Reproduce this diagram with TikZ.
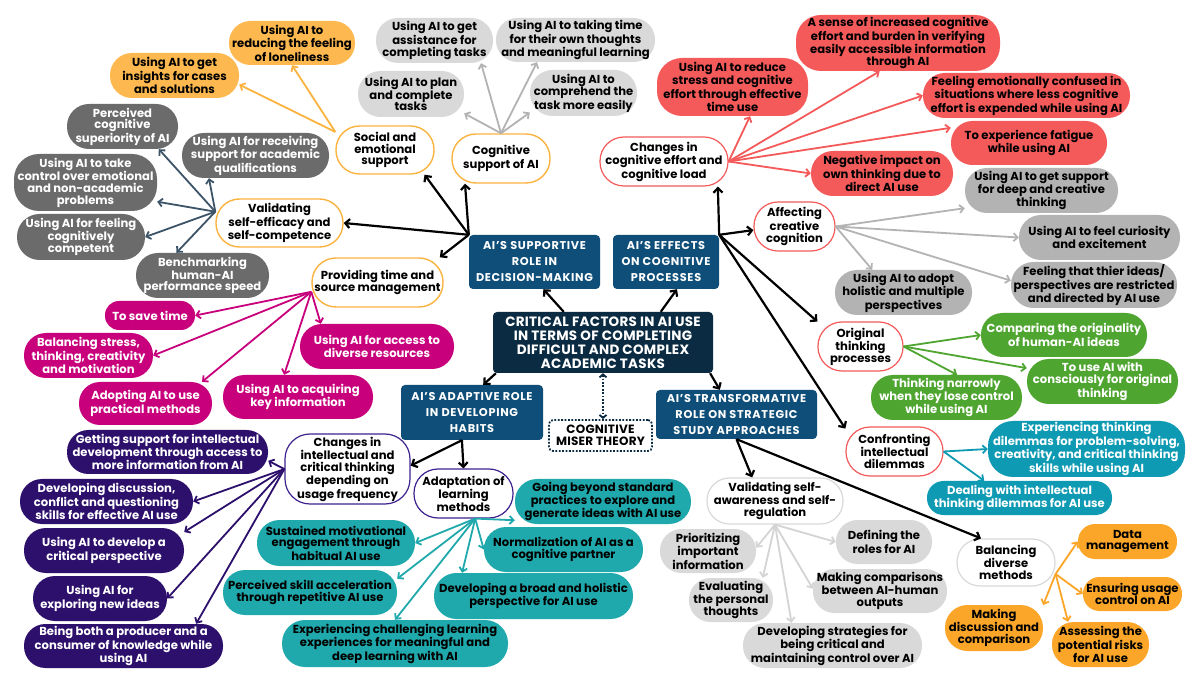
\documentclass[tikz,border=0pt]{standalone}
\usepackage{fontspec}
\setmainfont{Poppins}
\newfontfamily\capsf{Poppins}[LetterSpace=6]
\newfontfamily\mcapsf{Poppins}[LetterSpace=2]
\usetikzlibrary{arrows.meta}
\definecolor{navy}{HTML}{0B2B42}
\definecolor{steel}{HTML}{0E4E78}
\definecolor{orO}{HTML}{FBB340}
\definecolor{orF}{HTML}{FDB94F}
\definecolor{lgrey}{HTML}{D9D9D9}
\definecolor{dgrey}{HTML}{6B6B6B}
\definecolor{slate}{HTML}{3D5468}
\definecolor{mag}{HTML}{C8007C}
\definecolor{redF}{HTML}{F45A5A}
\definecolor{mgrey}{HTML}{B3B3B3}
\definecolor{grn}{HTML}{4EA52F}
\definecolor{tealA}{HTML}{0E9AB3}
\definecolor{purD}{HTML}{2D0F6C}
\definecolor{purO}{HTML}{3E2390}
\definecolor{tealB}{HTML}{20A9AC}
\definecolor{orB}{HTML}{FBA629}
\definecolor{lline}{HTML}{D4D4D4}
\newcommand{\bx}[7]{%
  \pgfmathsetmacro\bxw{#4-#2}%
  \pgfmathsetmacro\bxh{#5-#3}%
  \pgfmathsetmacro\bxr{min(25,\bxh/2-0.5)}%
  \node[bn, minimum width=\bxw pt, minimum height=\bxh pt, rounded corners=\bxr pt, #6] (#1) at ({(#2+#4)/2},{(#3+#5)/2}) {#7};}
\tikzset{
  bn/.style={align=center, inner sep=1pt, font=\bfseries\fontsize{11.6}{11.7}\selectfont},
  capbox/.style={fill=steel, text=white, rounded corners=4pt, font=\capsf\bfseries\fontsize{11.3}{16}\selectfont},
  ctrbox/.style={fill=navy, text=white, rounded corners=4pt, font=\mcapsf\bfseries\fontsize{13.5}{14}\selectfont},
  mbox/.style={draw=navy, line width=1.8pt, dash pattern=on 1.8pt off 1.6pt, fill=white, rounded corners=4pt, font=\mcapsf\bfseries\fontsize{12}{12.5}\selectfont},
  wo/.style={draw=orO, line width=1.4pt, fill=white},
  wr/.style={draw=redF, line width=1.2pt, fill=white},
  wp/.style={draw=purO, line width=1.2pt, fill=white},
  wg/.style={draw=lgrey, line width=1.2pt, fill=white},
  fo/.style={fill=orF},
  fl/.style={fill=lgrey},
  fd/.style={fill=dgrey, text=white},
  fm/.style={fill=mag, text=white},
  fr/.style={fill=redF},
  fg/.style={fill=mgrey},
  fgr/.style={fill=grn, text=white},
  fta/.style={fill=tealA, text=white},
  fp/.style={fill=purD, text=white},
  ftb/.style={fill=tealB},
  fob/.style={fill=orB},
  ak/.style={draw=black, line width=2.2pt, -{Straight Barb[length=4.5pt,width=9pt]}},
  ac/.style={draw=#1, line width=1.8pt, -{Straight Barb[length=4pt,width=8pt]}},
}
\begin{document}
\begin{tikzpicture}[x=1pt,y=-1pt]
\useasboundingbox[fill=white] (0,0) rectangle (1200,684);
% main
\bx{c}{493}{312}{713}{373}{ctrbox}{CRITICAL FACTORS IN AI USE\\IN TERMS OF COMPLETING\\DIFFICULT AND COMPLEX\\ACADEMIC TASKS}
\bx{sup}{469}{235}{600}{289}{capbox}{AI’S SUPPORTIVE\\ROLE IN\\DECISION-MAKING}
\bx{eff}{613}{235}{719}{289}{capbox}{AI’S EFFECTS\\ON COGNITIVE\\PROCESSES}
\bx{ada}{401}{385}{543}{440}{capbox}{AI’S ADAPTIVE ROLE\\IN DEVELOPING\\HABITS}
\bx{tra}{656}{390}{817}{439}{capbox}{AI’S TRANSFORMATIVE\\ROLE ON STRATEGIC\\STUDY APPROACHES}
\bx{cm}{549}{420}{652}{451}{mbox}{COGNITIVE\\MISER THEORY}
% supportive
\bx{soc}{336}{126}{434}{174}{wo}{Social and\\emotional\\support}
\bx{cog}{452}{134}{550}{183}{wo}{Cognitive\\support of AI}
\bx{valse}{216}{199}{343}{247}{wo}{Validating\\self-efficacy and\\self-competence}
\bx{prov}{312}{258}{443}{307}{wo}{Providing time and\\source management}
\bx{lone}{229}{21}{355}{65}{fo}{Using AI to\\reducing the feeling\\of loneliness}
\bx{ins}{110}{53}{239}{98}{fo}{Using AI to get\\insights for cases\\and solutions}
\bx{ast}{376}{18}{493}{63}{fl}{Using AI to get\\assistance for\\completing tasks}
\bx{tak}{496}{18}{655}{62}{fl}{Using AI to taking time\\for their own thoughts\\and meaningful learning}
\bx{plan}{358}{71}{464}{117}{fl}{Using AI to plan\\and complete\\tasks}
\bx{comp}{530}{70}{637}{116}{fl}{Using AI to\\comprehend the\\task more easily}
\bx{perc}{67}{104}{178}{149}{fd}{Perceived\\cognitive\\superiority of AI}
\bx{recv}{182}{133}{329}{178}{fd}{Using AI for receiving\\support for academic\\qualifications}
\bx{take}{14}{154}{157}{211}{fd}{Using AI to take\\control over emotional\\and non-academic\\problems}
\bx{feel}{17}{214}{145}{260}{fd}{Using AI for feeling\\cognitively\\competent}
\bx{bench}{136}{253}{269}{298}{fd}{Benchmarking\\human-AI\\performance speed}
\bx{save}{105}{301}{195}{330}{fm}{To save time}
\bx{bal}{24}{333}{153}{378}{fm}{Balancing stress,\\thinking, creativity\\and motivation}
\bx{adopt}{79}{382}{212}{425}{fm}{Adopting AI to use\\practical methods}
\bx{acq}{223}{375}{373}{419}{fm}{Using AI to acquiring\\key information}
\bx{acc}{300}{324}{454}{369}{fm}{Using AI for access to\\diverse resources}
% effects
\bx{chg}{600}{137}{728}{186}{wr}{Changes in\\cognitive effort and\\cognitive load}
\bx{aff}{754}{202}{835}{251}{wr}{Affecting\\creative\\cognition}
\bx{orig}{818}{322}{903}{371}{wr}{Original\\thinking\\processes}
\bx{conf}{846}{427}{943}{476}{wr}{Confronting\\intellectual\\dilemmas}
\bx{red1}{657}{58}{808}{116}{fr}{Using AI to reduce\\stress and cognitive\\effort through effective\\time use}
\bx{red2}{796}{15}{1000}{71}{fr}{A sense of increased cognitive\\effort and burden in verifying\\easily accessible information\\through AI}
\bx{red3}{923}{73}{1130}{118}{fr}{Feeling emotionally confused in\\situations where less cognitive\\effort is expended while using AI}
\bx{red4}{951}{121}{1107}{165}{fr}{To experience fatigue\\while using AI}
\bx{red5}{811}{151}{953}{196}{fr}{Negative impact on\\own thinking due to\\direct AI use}
\bx{g1}{965}{168}{1118}{213}{fg}{Using AI to get support\\for deep and creative\\thinking}
\bx{g2}{1019}{215}{1180}{260}{fg}{Using AI to feel curiosity\\and excitement}
\bx{g3}{1011}{262}{1177}{308}{fg}{Feeling that thier ideas/\\perspectives are restricted\\and directed by AI use}
\bx{g4}{835}{270}{972}{315}{fg}{Using AI to adopt\\holistic and multiple\\perspectives}
\bx{gr1}{981}{313}{1147}{357}{fgr}{Comparing the originality\\of human-AI ideas}
\bx{gr2}{1027}{359}{1178}{404}{fgr}{To use AI with\\consciously for original\\thinking}
\bx{gr3}{871}{375}{1022}{420}{fgr}{Thinking narrowly\\when they lose control\\while using AI}
\bx{t1}{988}{421}{1185}{477}{fta}{Experiencing thinking\\dilemmas for problem-solving,\\creativity, and critical thinking\\skills while using AI}
\bx{t2}{927}{481}{1112}{515}{fta}{Dealing with intellectual\\thinking dilemmas for AI use}
% transformative
\bx{vsa}{707}{478}{843}{524}{wg}{Validating self-\\awareness and self-\\regulation}
\bx{bdm}{957}{539}{1055}{586}{wg}{Balancing\\diverse\\methods}
\bx{pri}{660}{529}{756}{573}{fl}{Prioritizing\\important\\information}
\bx{eva}{689}{578}{773}{622}{fl}{Evaluating\\the personal\\thoughts}
\bx{dev}{743}{623}{922}{668}{fl}{Developing strategies for\\being critical and\\maintaining control over AI}
\bx{def}{836}{520}{932}{564}{fl}{Defining the\\roles for AI}
\bx{mak}{813}{569}{947}{613}{fl}{Making comparisons\\between AI-human\\outputs}
\bx{o1}{1078}{524}{1177}{559}{fob}{Data\\management}
\bx{o2}{1083}{577}{1182}{611}{fob}{Ensuring usage\\control on AI}
\bx{o3}{1052}{622}{1149}{667}{fob}{Assessing the\\potential risks\\for AI use}
\bx{o4}{945}{605}{1043}{651}{fob}{Making\\discussion and\\comparison}
% adaptive
\bx{cit}{285}{434}{410}{504}{wp}{Changes in\\intellectual and\\critical thinking\\depending on\\usage frequency}
\bx{adm}{414}{469}{513}{518}{wp}{Adaptation of\\learning\\methods}
\bx{p1}{67}{430}{268}{474}{fp}{Getting support for intellectual\\development through access to\\more information from AI}
\bx{p2}{20}{479}{193}{524}{fp}{Developing discussion,\\conflict and questioning\\skills for effective AI use}
\bx{p3}{24}{528}{184}{573}{fp}{Using AI to develop a\\critical perspective}
\bx{p4}{33}{576}{167}{621}{fp}{Using AI for\\exploring new ideas}
\bx{p5}{24}{624}{223}{668}{fp}{Being both a producer and a\\consumer of knowledge while\\using AI}
\bx{q1}{515}{479}{691}{524}{ftb}{Going beyond standard\\practices to explore and\\generate ideas with AI use}
\bx{q2}{257}{520}{415}{566}{ftb}{Sustained motivational\\engagement through\\habitual AI use}
\bx{q3}{484}{527}{643}{572}{ftb}{Normalization of AI as a\\cognitive partner}
\bx{q4}{223}{570}{397}{615}{ftb}{Perceived skill acceleration\\through repetitive AI use}
\bx{q5}{434}{573}{633}{619}{ftb}{Developing a broad and holistic\\perspective for AI use}
\bx{q6}{282}{620}{508}{667}{ftb}{Experiencing challenging learning\\experiences for meaningful and\\deep learning with AI}
% ---- connectors
\draw[ak] (c.142) -- (sup.288);
\draw[ak] (c.28) -- (eff.292);
\draw[ak] (c.196) -- (ada.68);
\draw[ak] (c.344) -- (tra.124);
\draw[draw=navy, line width=1.8pt, dash pattern=on 1.8pt off 1.6pt, {Straight Barb[length=3pt,width=7pt]}-{Straight Barb[length=3pt,width=7pt]}] (c.south) -- (c.south |- cm.north);
\draw[ak] (sup.north west) -- (soc.328);
\draw[ak] (sup.north west) -- (cog.215);
\draw[ak] (sup.north west) -- (valse.east);
\draw[ak] (sup.north west) -- (prov.22);
\draw[ac=orO] (soc.160) -- (lone.south);
\draw[ac=orO] (soc.160) -- (ins.352);
\draw[ac=mgrey] (cog.north) -- (plan.340);
\draw[ac=mgrey] (cog.north) -- (ast.334);
\draw[ac=mgrey] (cog.north) -- (tak.210);
\draw[ac=mgrey] (cog.north) -- (comp.200);
\draw[ac=slate] (valse.170) -- (perc.328);
\draw[ac=slate] (valse.170) -- (recv.206);
\draw[ac=slate] (valse.170) -- (take.345);
\draw[ac=slate] (valse.170) -- (feel.east);
\draw[ac=slate] (valse.170) -- (bench.139);
\draw[ac=mag] (prov.188) -- (save.east);
\draw[ac=mag] (prov.188) -- (bal.east);
\draw[ac=mag] (prov.188) -- (adopt.21);
\draw[ac=mag] (prov.188) -- (acq.122);
\draw[ac=mag] (prov.188) -- (acc.158);
\draw[ak] (eff.north east) -- (chg.335);
\draw[ak] (eff.north east) -- (aff.185);
\draw[ak] (eff.north east) -- (orig.150);
\draw[ak] (eff.north east) -- (conf.155);
\draw[ac=redF] (chg.east) -- (red1.301);
\draw[ac=redF] (chg.east) -- (red2.237);
\draw[ac=redF] (chg.east) -- (red3.west);
\draw[ac=redF] (chg.east) -- (red4.169);
\draw[ac=redF] (chg.east) -- (red5.west);
\draw[ac=mgrey] (aff.east) -- (g1.193);
\draw[ac=mgrey] (aff.east) -- (g2.west);
\draw[ac=mgrey] (aff.east) -- (g3.177);
\draw[ac=mgrey] (aff.east) -- (g4.144);
\draw[ac=grn] (orig.east) -- (gr1.west);
\draw[ac=grn] (orig.east) -- (gr2.170);
\draw[ac=grn] (orig.east) -- (gr3.65);
\draw[ac=tealA] (conf.east) -- (t1.west);
\draw[ac=tealA] (conf.east) -- (t2.154);
\draw[ak] (tra.south) -- (vsa.134);
\draw[ak] (tra.south) -- (bdm.136);
\draw[ac=lline] (vsa.south) -- (pri.4);
\draw[ac=lline] (vsa.south) -- (eva.35);
\draw[ac=lline] (vsa.south) -- (dev.151);
\draw[ac=lline] (vsa.south) -- (def.west);
\draw[ac=lline] (vsa.south) -- (mak.178);
\draw[ac=orB] (bdm.347) -- (o1.west);
\draw[ac=orB] (bdm.347) -- (o2.west);
\draw[ac=orB] (bdm.347) -- (o3.145);
\draw[ac=orB] (bdm.347) -- (o4.25);
\draw[ak] (ada.250) -- (cit.3);
\draw[ak] (ada.250) -- (adm.north);
\draw[ac=purD] (cit.west) -- (p1.355);
\draw[ac=purD] (cit.west) -- (p2.east);
\draw[ac=purD] (cit.west) -- (p3.13);
\draw[ac=purD] (cit.west) -- (p4.east);
\draw[ac=purD] (cit.west) -- (p5.17);
\draw[ac=tealB] (adm.295) -- (q1.192);
\draw[ac=tealB] (adm.295) -- (q2.east);
\draw[ac=tealB] (adm.295) -- (q3.west);
\draw[ac=tealB] (adm.295) -- (q4.9);
\draw[ac=tealB] (adm.295) -- (q5.162);
\draw[ac=tealB] (adm.295) -- (q6.north);
\end{tikzpicture}
\end{document}
